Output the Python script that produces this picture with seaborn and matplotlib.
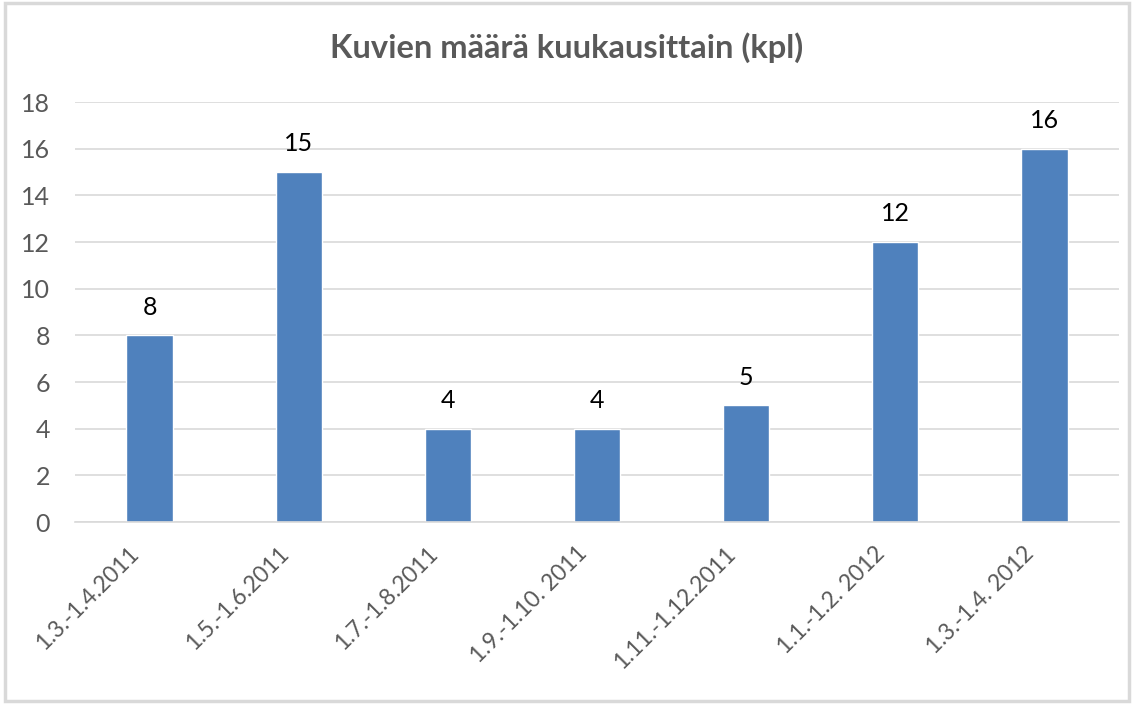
import matplotlib
matplotlib.use("Agg")
import matplotlib.pyplot as plt
import matplotlib.transforms as mtransforms
import seaborn as sns
import pandas as pd

categories = ["1.3.-1.4.2011", "1.5.-1.6.2011", "1.7.-1.8.2011", "1.9.-1.10. 2011",
              "1.11.-1.12.2011", "1.1.-1.2. 2012", "1.3.-1.4. 2012"]
values = [8, 15, 4, 4, 5, 12, 16]
title = "Kuvien määrä kuukausittain (kpl)"

sns.set_theme(style="white")
plt.rcParams['font.family'] = ['Lato', 'DejaVu Sans']

df = pd.DataFrame({"cat": categories, "val": values})

fig = plt.figure(figsize=(11.34, 7.04), dpi=100)
ax = fig.add_axes([75 / 1134, 1 - 522 / 704, 1044 / 1134, 420 / 704])
sns.barplot(data=df, x="cat", y="val", color="#4F81BD", saturation=1, width=0.31, ax=ax)

ax.set_ylim(0, 18)
ax.set_yticks(range(0, 19, 2))
ax.set_xlim(-0.5, len(categories) - 0.5)
ax.yaxis.grid(True, color="#D9D9D9", linewidth=1.2)
ax.set_axisbelow(True)
for s in ["top", "right", "left"]:
    ax.spines[s].set_visible(False)
ax.spines["bottom"].set_color("#D9D9D9")
ax.spines["bottom"].set_linewidth(1.2)
ax.set_xlabel("")
ax.set_ylabel("")
ax.tick_params(axis="both", length=0, colors="#595959", labelsize=18)
ax.tick_params(axis="y", pad=18)
ax.set_xticks(range(len(categories)))
ax.set_xticklabels(categories, rotation=45, ha="right", rotation_mode="anchor", fontsize=16.5)
ax.tick_params(axis="x", pad=15)
offset = mtransforms.ScaledTranslation(-0.21, 0, fig.dpi_scale_trans)
for lbl in ax.get_xticklabels():
    lbl.set_transform(lbl.get_transform() + offset)

for c in ax.containers:
    ax.bar_label(c, labels=[str(v) for v in values], padding=12, fontsize=18, color="black")

fig.text(0.5, 0.932, title, ha="center", va="center", fontsize=23.5, fontweight="bold", color="#595959")

fig.patches.append(plt.Rectangle((0.004, 0.004), 0.992, 0.992, transform=fig.transFigure,
                                 fill=False, edgecolor="#D9D9D9", linewidth=2.5))
fig.savefig("out.png", dpi=100)
